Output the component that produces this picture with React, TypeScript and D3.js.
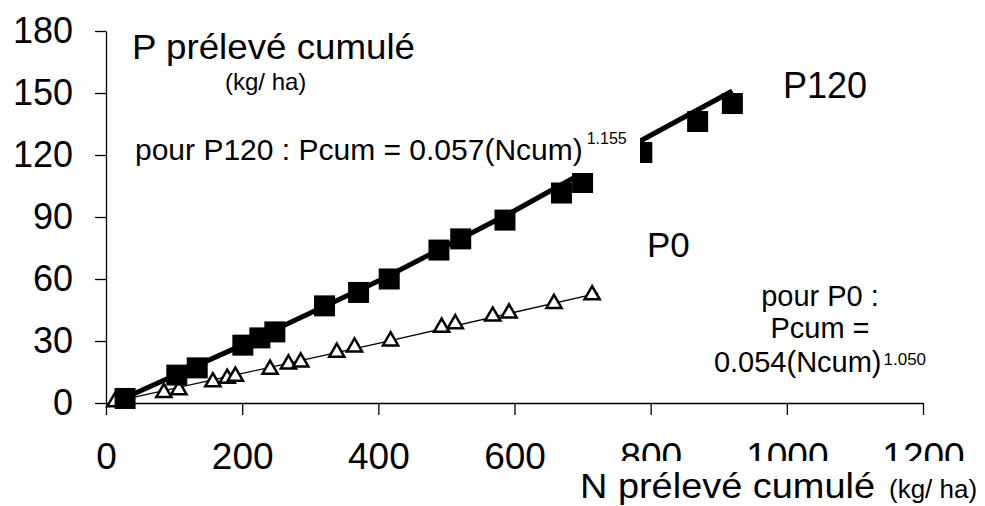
import { useEffect, useRef } from 'react';
import * as d3 from 'd3';

// P120 treatment: squares (N cumulated, P cumulated, kg/ha)
const p120N = [28, 104, 134, 201, 226, 248, 321, 371, 416, 489, 521, 586, 669, 700, 787, 869, 920];
const p120P = [2.2, 13.5, 17, 28, 31.5, 34.4, 47, 53.5, 60, 74, 79.4, 88.5, 101.6, 106.7, 121.2, 136.2, 144.9];

// P0 treatment: open triangles
const p0N = [13, 85, 107, 157, 178, 190, 241, 268, 286, 339, 365, 418, 493, 513, 568, 592, 658, 714];
const p0P = [0.5, 5, 6.4, 10.2, 11.9, 12.9, 16.3, 18.8, 19.8, 24.5, 27, 30, 36.6, 38.3, 42, 43.5, 48.1, 52.3];

// fitted curves, vertices
const fit120N = [28, 200, 400, 600, 786, 920];
const fit120P = [2.5, 28, 59, 93, 127, 151];
const fit0N = [15, 400, 723];
const fit0P = [0.9, 28.8, 53.2];

const xTicks = [0, 200, 400, 600, 800, 1000, 1200];
const yTicks = [0, 30, 60, 90, 120, 150, 180];

const FONT = "'Liberation Sans', Arial, sans-serif";

export default function App() {
  const svgRef = useRef<SVGSVGElement>(null);

  useEffect(() => {
    if (!svgRef.current) return;
    const svg = d3.select(svgRef.current);
    svg.selectAll("*").remove();

    const x = d3.scaleLinear().domain([0, 1200]).range([106, 923]);
    const y = d3.scaleLinear().domain([0, 180]).range([403, 31]);

    svg.append("rect").attr("width", 985).attr("height", 506).attr("fill", "#fff");

    // axes
    const xAxis = svg.append("g")
      .attr("transform", `translate(0,${y(0)})`)
      .call(d3.axisBottom(x).tickValues(xTicks).tickSize(12).tickSizeOuter(0).tickFormat(d3.format("d")));
    xAxis.selectAll("text")
      .attr("y", 66).attr("dy", 0)
      .attr("font-size", 37).attr("font-family", FONT).attr("fill", "#000");

    const yAxis = svg.append("g")
      .attr("transform", `translate(${x(0)},0)`)
      .call(d3.axisLeft(y).tickValues(yTicks).tickSize(11).tickPadding(22).tickSizeOuter(0));
    yAxis.selectAll("text")
      .attr("font-size", 36).attr("font-family", FONT).attr("fill", "#000");

    [xAxis, yAxis].forEach(a => {
      a.select(".domain").attr("stroke", "#000").attr("stroke-width", 1.3);
      a.selectAll(".tick line").attr("stroke", "#000").attr("stroke-width", 1.3);
    });

    // P0 fit + markers
    const line = d3.line<[number, number]>().x(d => x(d[0])).y(d => y(d[1]));
    svg.append("path")
      .datum(fit0N.map((n, i) => [n, fit0P[i]] as [number, number]))
      .attr("fill", "none").attr("stroke", "#000").attr("stroke-width", 1.3)
      .attr("d", line);

    const tri = d3.symbol().type(d3.symbolTriangle).size(100);
    svg.append("g").selectAll("path")
      .data(p0N.map((n, i) => [n, p0P[i]]))
      .join("path")
      .attr("transform", d => `translate(${x(d[0])},${y(d[1])})`)
      .attr("d", tri)
      .attr("fill", "#fff").attr("stroke", "#000").attr("stroke-width", 2.5)
      .attr("stroke-linejoin", "miter");

    // P120 fit + markers
    svg.append("path")
      .datum(fit120N.map((n, i) => [n, fit120P[i]] as [number, number]))
      .attr("fill", "none").attr("stroke", "#000").attr("stroke-width", 5)
      .attr("d", line);

    const sq = 21;
    svg.append("g").selectAll("rect")
      .data(p120N.map((n, i) => [n, p120P[i]]))
      .join("rect")
      .attr("x", d => x(d[0]) - sq / 2)
      .attr("y", d => y(d[1]) - sq / 2)
      .attr("width", sq).attr("height", sq)
      .attr("fill", "#000");

    // axis titles
    svg.append("text").attr("x", 132).attr("y", 59)
      .attr("font-size", 35).attr("font-family", FONT)
      .attr("textLength", 283).attr("lengthAdjust", "spacingAndGlyphs")
      .text("P prélevé cumulé");
    svg.append("text").attr("x", 225).attr("y", 90)
      .attr("font-size", 24).attr("font-family", FONT)
      .text("(kg/ ha)");

    // P120 equation (opaque text box)
    svg.append("rect").attr("x", 130).attr("y", 128).attr("width", 510).attr("height", 45).attr("fill", "#fff");
    const eq120 = svg.append("text").attr("x", 135).attr("y", 160)
      .attr("font-size", 30).attr("font-family", FONT);
    eq120.append("tspan").text("pour P120 : Pcum = 0.057(Ncum)");
    eq120.append("tspan").attr("dy", -16).attr("font-size", 16).attr("dx", 4).text("1.155");

    // series labels
    svg.append("text").attr("x", 783).attr("y", 98)
      .attr("font-size", 36).attr("font-family", FONT).text("P120");
    svg.append("text").attr("x", 647).attr("y", 257)
      .attr("font-size", 35).attr("font-family", FONT).text("P0");

    // P0 equation
    const g0 = svg.append("g").attr("font-family", FONT).attr("font-size", 29).attr("text-anchor", "middle");
    g0.append("text").attr("x", 820).attr("y", 306).text("pour P0 :");
    g0.append("text").attr("x", 820).attr("y", 338).text("Pcum =");
    const l3 = g0.append("text").attr("x", 820).attr("y", 372);
    l3.append("tspan").text("0.054(Ncum)");
    l3.append("tspan").attr("dy", -7).attr("font-size", 17).attr("dx", 2).text("1.050");

    // x title (opaque box clips bottom of right tick labels)
    svg.append("rect").attr("x", 575).attr("y", 461).attr("width", 410).attr("height", 45).attr("fill", "#fff");
    svg.append("text").attr("x", 580).attr("y", 498)
      .attr("font-size", 35).attr("font-family", FONT)
      .attr("textLength", 295).attr("lengthAdjust", "spacingAndGlyphs")
      .text("N prélevé cumulé");
    svg.append("text").attr("x", 889).attr("y", 498)
      .attr("font-size", 26).attr("font-family", FONT)
      .text("(kg/ ha)");
  }, []);

  return (
    <svg ref={svgRef} width={985} height={506}
      style={{ position: "absolute", left: 0, top: 0, display: "block" }} />
  );
}
